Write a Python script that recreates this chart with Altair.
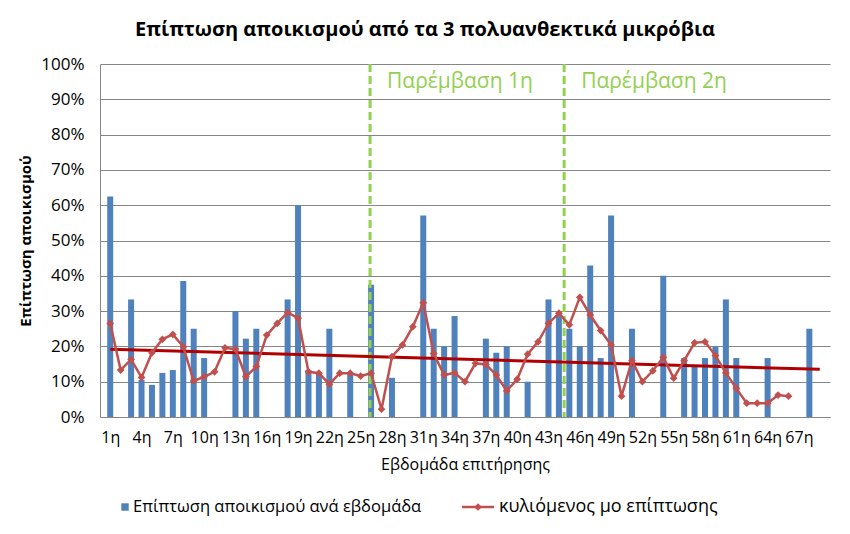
import altair as alt
import pandas as pd

# ---- data ----
weeks = list(range(1, 70))
weekly_pct = [62.5, 0, 33.3, 10.5, 9.1, 12.5, 13.3, 38.5, 25, 16.7,
              0, 0, 30, 22.2, 25, 0, 0, 33.3, 60, 13.3,
              12.5, 25, 0, 12.5, 0, 37.5, 0, 11.1, 0, 0,
              57.1, 25, 20, 28.6, 0, 0, 22.2, 18.2, 20, 0,
              10, 0, 33.3, 28.6, 25, 20, 42.9, 16.7, 57.1, 0,
              25, 0, 0, 40, 0, 16.7, 14.3, 16.7, 20, 33.3,
              16.7, 0, 0, 16.7, 0, 0, 0, 25, 0]
ma_weeks = list(range(1, 67))
ma_pct = [26.5, 13.3, 16.3, 11.2, 18.2, 22, 23.4, 19.9, 10.2, 11.4,
          12.8, 19.6, 19.2, 11.4, 14.3, 23.2, 26.5, 29.6, 28, 12.8,
          12.4, 9.3, 12.4, 12.4, 11.6, 12.4, 2.2, 17.1, 20.4, 25.6,
          32.4, 18, 11.9, 12.5, 10, 15.2, 14.9, 11.9, 7.4, 10.7,
          17.8, 21.3, 26.5, 29.4, 26.1, 33.9, 28.9, 24.5, 20.4, 5.9,
          16, 10, 13.1, 16.9, 11, 16, 21, 21.3, 17.4, 12.5,
          8.1, 3.9, 3.9, 3.9, 6.2, 5.9]
trend_weeks = [1, 69]
trend_pct = [19.2, 13.5]
intervention_weeks = [25.9, 44.5]
intervention_labels = ["Παρέμβαση 1η", "Παρέμβαση 2η"]
tick_weeks = list(range(1, 68, 3))
y_ticks = [0, 0.1, 0.2, 0.3, 0.4, 0.5, 0.6, 0.7, 0.8, 0.9, 1.0]

title_text = "Επίπτωση αποικισμού από τα 3 πολυανθεκτικά μικρόβια"
x_title = "Εβδομάδα επιτήρησης"
y_title = "Επίπτωση αποικισμού"
legend_bar = "Επίπτωση αποικισμού ανά εβδομάδα"
legend_line = "κυλιόμενος μο επίπτωσης"

FONT = "Open Sans"
BLUE = "#4F81BD"
RED = "#C0504D"
DARKRED = "#B00000"
GREEN = "#92D050"

bars_df = pd.DataFrame({"week": weeks, "v": [p / 100 for p in weekly_pct]})
ma_df = pd.DataFrame({"week": ma_weeks, "v": [p / 100 for p in ma_pct]})
trend_df = pd.DataFrame({"week": trend_weeks, "v": [p / 100 for p in trend_pct]})
int_df = pd.DataFrame({"week": intervention_weeks, "label": intervention_labels})

xscale = alt.Scale(domain=[0.5, 69.5], nice=False, zero=False)
yscale = alt.Scale(domain=[0, 1], nice=False)

xaxis = alt.Axis(values=tick_weeks, labelExpr="datum.value + 'η'", title=x_title,
                 grid=False, ticks=False, tickSize=0, labelPadding=12,
                 labelFontSize=16, labelFont=FONT, labelColor="black",
                 titleFont=FONT, titleFontSize=16, titleFontWeight="normal",
                 titleColor="black", titlePadding=11,
                 domainColor="#868686", labelAngle=0, labelOverlap=False)
yaxis = alt.Axis(values=y_ticks, format=".0%", title=y_title,
                 grid=True, gridColor="#868686", ticks=False, tickSize=0,
                 labelPadding=16, labelFontSize=17, labelFont=FONT, labelColor="black",
                 labelOverlap=False,
                 titleFont=FONT, titleFontSize=15, titleFontWeight="bold",
                 titleColor="black", titlePadding=7, domainColor="#868686")

X = alt.X("week:Q", scale=xscale, axis=xaxis)
Y = alt.Y("v:Q", scale=yscale, axis=yaxis)

bars = alt.Chart(bars_df).mark_bar(color=BLUE, size=6).encode(x=X, y=Y)

vlines = alt.Chart(int_df).mark_rule(color=GREEN, strokeWidth=3, strokeDash=[8, 4]).encode(x=X)

int_text = alt.Chart(int_df).mark_text(
    color=GREEN, font=FONT, fontSize=21, align="left", baseline="middle", dx=17
).encode(x=X, y=alt.value(18), text="label:N")

trend = alt.Chart(trend_df).mark_line(color=DARKRED, strokeWidth=3).encode(x=X, y=Y)

ma = alt.Chart(ma_df).mark_line(
    color=RED, strokeWidth=2.5,
    point=alt.OverlayMarkDef(shape="diamond", filled=True, color=RED, size=60),
).encode(x=X, y=Y)

# manual legend below the plot
leg_y = 443
leg_sq = alt.Chart(pd.DataFrame({"k": [0]})).mark_square(color=BLUE, size=55, opacity=1).encode(
    x=alt.value(25), y=alt.value(leg_y))
leg_t1 = alt.Chart(pd.DataFrame({"t": [legend_bar]})).mark_text(
    font=FONT, fontSize=16.5, align="left", baseline="middle", color="black"
).encode(x=alt.value(33), y=alt.value(leg_y), text="t:N")
leg_ln = alt.Chart(pd.DataFrame({"k": [0]})).mark_rule(color=RED, strokeWidth=2.5).encode(
    x=alt.value(362), x2=alt.value(394), y=alt.value(leg_y))
leg_pt = alt.Chart(pd.DataFrame({"k": [0]})).mark_point(
    shape="diamond", filled=True, color=RED, size=60, opacity=1
).encode(x=alt.value(378), y=alt.value(leg_y))
leg_t2 = alt.Chart(pd.DataFrame({"t": [legend_line]})).mark_text(
    font=FONT, fontSize=18, align="left", baseline="middle", color="black"
).encode(x=alt.value(399), y=alt.value(leg_y), text="t:N")

chart = alt.layer(
    bars, vlines, int_text, trend, ma, leg_sq, leg_t1, leg_ln, leg_pt, leg_t2
).properties(
    width=730, height=353,
    title=alt.TitleParams(title_text, font=FONT, fontSize=20, fontWeight="bold",
                          color="black", anchor="middle", dx=-40, offset=15),
    autosize=alt.AutoSizeParams(type="none"),
    padding={"left": 92, "top": 56, "right": 12, "bottom": 105},
).configure_view(stroke=None)

chart.save("out.html", embed_options={"renderer": "svg", "actions": False})
